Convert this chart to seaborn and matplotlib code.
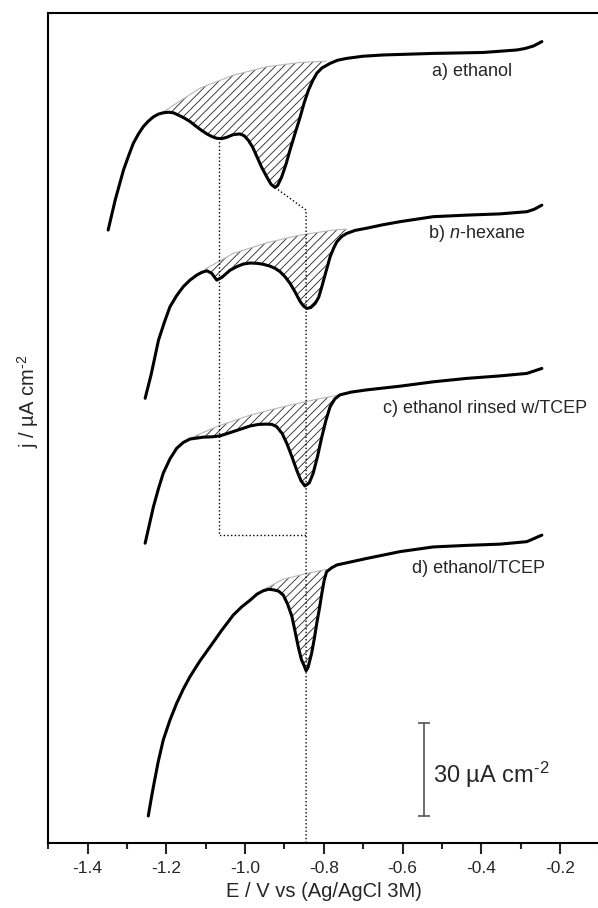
import numpy as np
import matplotlib
matplotlib.use("Agg")
import matplotlib.pyplot as plt
from matplotlib.ticker import MultipleLocator
import seaborn as sns

# curve a) ethanol : potential (V) and current density (uA cm^-2, stacked offset)
e_a = [-1.348, -1.330, -1.309, -1.296, -1.284, -1.271, -1.259, -1.246, -1.233, -1.220,
       -1.208, -1.195, -1.182, -1.157, -1.140, -1.123, -1.110, -1.097, -1.085, -1.072,
       -1.060, -1.047, -1.030, -1.013, -1.002, -0.992, -0.981, -0.970, -0.958, -0.945,
       -0.934, -0.924, -0.917, -0.907, -0.896, -0.886, -0.873, -0.860, -0.850, -0.839,
       -0.828, -0.818, -0.805, -0.784, -0.765, -0.742, -0.700, -0.649, -0.522, -0.395,
       -0.310, -0.288, -0.267, -0.246]
j_a = [197.1, 206.8, 216.4, 221.0, 225.0, 228.0, 230.3, 232.1, 233.5, 234.4,
       234.8, 235.0, 234.8, 233.3, 232.0, 230.3, 229.1, 228.0, 227.2, 226.6,
       226.5, 226.9, 227.8, 228.0, 227.4, 226.0, 223.8, 220.7, 217.3, 214.2,
       211.8, 210.8, 211.5, 214.2, 218.3, 222.8, 228.2, 233.5, 238.0, 242.1,
       245.2, 247.5, 249.2, 250.7, 251.7, 252.3, 253.0, 253.4, 253.9, 254.2,
       255.0, 255.5, 256.3, 257.7]
base_e_a = [-1.208, -1.115, -1.030, -0.945, -0.860, -0.793]
base_j_a = [235.1, 242.7, 246.9, 249.6, 251.0, 251.4]

# curve b) n-hexane
e_b = [-1.254, -1.239, -1.220, -1.205, -1.191, -1.174, -1.157, -1.140, -1.123, -1.110,
       -1.097, -1.085, -1.072, -1.059, -1.038, -1.020, -1.004, -0.987, -0.970, -0.954,
       -0.937, -0.924, -0.911, -0.898, -0.886, -0.873, -0.860, -0.851, -0.843, -0.833,
       -0.822, -0.813, -0.805, -0.795, -0.784, -0.775, -0.767, -0.755, -0.742, -0.720,
       -0.691, -0.650, -0.606, -0.522, -0.437, -0.352, -0.284, -0.265, -0.246]
j_b = [143.0, 150.5, 161.7, 167.5, 172.4, 176.0, 178.9, 181.0, 182.6, 183.5,
       184.0, 183.2, 181.0, 181.9, 184.2, 185.4, 186.2, 186.5, 186.4, 186.1,
       185.5, 184.8, 183.7, 182.0, 180.0, 177.2, 174.1, 172.6, 171.9, 172.2,
       173.5, 175.5, 178.9, 183.5, 188.5, 191.3, 193.3, 195.0, 196.0, 197.0,
       197.7, 198.8, 199.8, 201.4, 201.9, 202.3, 203.0, 203.8, 205.1]
base_e_b = [-1.102, -1.030, -0.945, -0.860, -0.776, -0.742]
base_j_b = [184.5, 189.6, 193.0, 195.5, 197.1, 197.4]

# curve c) ethanol rinsed w/TCEP
e_c = [-1.254, -1.233, -1.220, -1.208, -1.191, -1.174, -1.157, -1.140, -1.106, -1.085,
       -1.064, -1.030, -0.987, -0.966, -0.945, -0.932, -0.920, -0.906, -0.894, -0.881,
       -0.869, -0.858, -0.848, -0.837, -0.827, -0.816, -0.805, -0.794, -0.784, -0.772,
       -0.759, -0.730, -0.691, -0.606, -0.522, -0.437, -0.352, -0.284, -0.246]
j_c = [96.4, 108.1, 114.0, 118.9, 123.5, 126.9, 128.8, 129.9, 130.5, 130.6,
       130.9, 132.3, 134.1, 134.6, 134.7, 134.6, 133.9, 131.7, 128.5, 124.2,
       119.9, 116.5, 114.8, 115.8, 118.9, 124.3, 130.6, 136.2, 140.3, 142.8,
       144.1, 145.0, 145.7, 146.9, 148.3, 149.4, 150.2, 151.0, 152.6]
base_e_c = [-1.144, -1.072, -0.987, -0.903, -0.818, -0.759]
base_j_c = [129.9, 133.9, 137.6, 140.3, 142.7, 144.1]

# curve d) ethanol/TCEP
e_d = [-1.246, -1.240, -1.233, -1.221, -1.208, -1.191, -1.174, -1.157, -1.140, -1.115,
       -1.089, -1.060, -1.030, -1.008, -0.987, -0.970, -0.954, -0.940, -0.928, -0.915,
       -0.903, -0.892, -0.881, -0.873, -0.865, -0.857, -0.850, -0.845, -0.840, -0.831,
       -0.824, -0.818, -0.811, -0.805, -0.799, -0.793, -0.780, -0.767, -0.691, -0.606,
       -0.522, -0.437, -0.352, -0.284, -0.246]
j_d = [8.7, 13.2, 18.1, 26.0, 33.1, 39.5, 44.9, 49.5, 53.5, 58.5,
       63.1, 68.3, 73.3, 76.0, 78.1, 80.0, 81.1, 81.6, 81.4, 81.0,
       79.7, 76.8, 72.8, 68.0, 63.1, 59.0, 57.0, 55.4, 56.5, 61.0,
       65.8, 70.6, 75.5, 80.3, 84.5, 87.2, 88.5, 89.4, 91.5, 93.7,
       95.2, 95.7, 96.1, 96.9, 99.0]
base_e_d = [-0.954, -0.903, -0.843, -0.793]
base_j_d = [81.4, 84.8, 86.7, 88.0]

labels = ["a) ethanol", "b) $\\mathit{n}$-hexane", "c) ethanol rinsed w/TCEP", "d) ethanol/TCEP"]
label_e = [-0.526, -0.535, -0.650, -0.577]
label_j = [248.0, 196.0, 139.8, 88.3]

# peak guide lines
guide1_e = [-1.066, -1.066, -0.845]
guide1_j = [226.6, 99.0, 99.0]
guide2_e = [-0.924, -0.845, -0.845]
guide2_j = [210.8, 203.5, 0.0]

# scale bar
bar_e = -0.545
bar_j = [8.7, 38.7]

sns.set_style("ticks")
plt.rcParams["font.family"] = ["Liberation Sans", "DejaVu Sans"]
plt.rcParams["mathtext.fontset"] = "custom"
plt.rcParams["mathtext.rm"] = "Liberation Sans"
plt.rcParams["mathtext.it"] = "Liberation Sans:italic"
plt.rcParams["axes.unicode_minus"] = False
plt.rcParams["hatch.linewidth"] = 0.6

fig = plt.figure(figsize=(5.98, 9.08), dpi=100)
ax = fig.add_axes([0.0808, 0.0716, 0.9214, 0.9141])

curves = [(e_a, j_a, base_e_a, base_j_a), (e_b, j_b, base_e_b, base_j_b),
          (e_c, j_c, base_e_c, base_j_c), (e_d, j_d, base_e_d, base_j_d)]

for e, j, be, bj in curves:
    e = np.array(e)
    j = np.array(j)
    inside = (e >= be[0]) & (e <= be[-1])
    poly_e = np.concatenate([[be[0]], e[inside], [be[-1]], be[::-1]])
    poly_j = np.concatenate([[bj[0]], j[inside], [bj[-1]], bj[::-1]])
    ax.fill(poly_e, poly_j, facecolor="none", edgecolor="#222222", hatch="////", linewidth=0)
    ax.plot(be, bj, color="#b8b8b8", lw=0.8)
    sns.lineplot(x=e, y=j, sort=False, estimator=None, color="black", lw=2.2, ax=ax)

ax.plot(guide1_e, guide1_j, ls=":", color="black", lw=1.0)
ax.plot(guide2_e, guide2_j, ls=":", color="black", lw=1.0)

for t, x, y in zip(labels, label_e, label_j):
    ax.text(x, y, t, fontsize=13, va="center", ha="left")

ax.plot([bar_e, bar_e], bar_j, color="#555555", lw=1.2)
ax.plot([bar_e, bar_e], bar_j, color="#555555", lw=0, marker="_", markersize=8, markeredgewidth=1.2)
ax.text(-0.522, 21.9, "30 µA cm$^{\\text{-}2}$", fontsize=17, va="center", ha="left")

ax.set_xlim(-1.5, -0.1)
ax.set_ylim(0, 266.9)
ax.xaxis.set_minor_locator(MultipleLocator(0.1))
ax.set_xticks(np.arange(-1.4, -0.15, 0.2))
ax.set_xticklabels(["-1.4", "-1.2", "-1.0", "-0.8", "-0.6", "-0.4", "-0.2"])
ax.tick_params(axis="x", which="major", length=8, width=1.5, labelsize=12.5, pad=5, direction="out")
ax.tick_params(axis="x", which="minor", length=4.5, width=1.5, direction="out")
ax.set_yticks([])
for side in ["left", "bottom", "top"]:
    ax.spines[side].set_linewidth(1.5)
    ax.spines[side].set_color("black")
ax.spines["right"].set_visible(False)

ax.set_xlabel("E / V vs (Ag/AgCl 3M)", fontsize=14.5, labelpad=4)
ax.text(-0.0368, 0.5325, "j / µA cm$^{\\text{-}2}$", fontsize=14.5, rotation=90,
        ha="center", va="center", transform=ax.transAxes)

fig.savefig("out.png", dpi=100)
